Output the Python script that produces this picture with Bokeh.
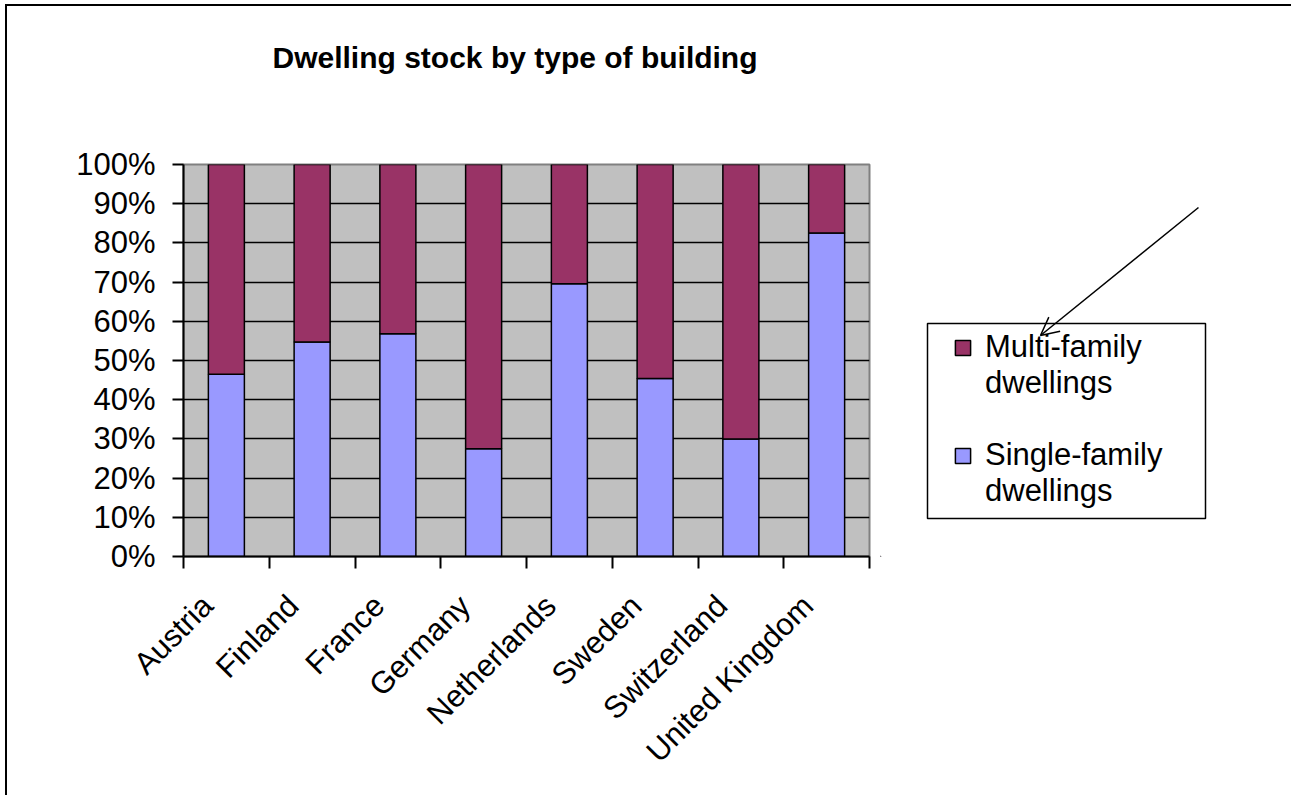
import math
from bokeh.plotting import figure
from bokeh.layouts import row
from bokeh.models import (ColumnDataSource, FixedTicker, NumeralTickFormatter, Legend,
                          LegendItem, Arrow, OpenHead)
from bokeh.embed import file_html
from bokeh.resources import INLINE

# ---- data (shares of dwelling stock) ----
categories = ["Austria", "Finland", "France", "Germany", "Netherlands",
              "Sweden", "Switzerland", "United Kingdom"]
single_family = [0.465, 0.547, 0.568, 0.275, 0.696, 0.454, 0.300, 0.825]
multi_family = [0.535, 0.453, 0.432, 0.725, 0.304, 0.546, 0.700, 0.175]
y_ticks = [0.0, 0.1, 0.2, 0.3, 0.4, 0.5, 0.6, 0.7, 0.8, 0.9, 1.0]
legend_lines = [("Multi-family", "dwellings"), ("Single-family", "dwellings")]
chart_title = "Dwelling stock by type of building"

FONT = "Liberation Sans"
SINGLE_COLOR = "#9999FF"
MULTI_COLOR = "#993366"
LABEL_SHIFT = 0.22   # rotated labels sit left of the category centre (as in Excel)

pos = [i + 0.5 for i in range(len(categories))]
label_pos = [x - LABEL_SHIFT for x in pos]
source = ColumnDataSource(dict(x=pos, single=single_family, multi=multi_family))

MAIN_W, H = 873, 791
TOP, BOTTOM = 158, 241

p = figure(width=MAIN_W, height=H, x_range=(0, len(categories)), y_range=(0, 1),
           output_backend="svg", toolbar_location=None,
           min_border_left=176, min_border_top=TOP, min_border_right=11,
           min_border_bottom=BOTTOM)

p.background_fill_color = "#C0C0C0"
p.border_fill_color = "white"
p.outline_line_color = "#808080"
p.outline_line_width = 2

renderers = p.vbar_stack(["single", "multi"], x="x", width=0.42, source=source,
                         fill_color=[SINGLE_COLOR, MULTI_COLOR],
                         line_color="black", line_width=1.5)

# title (two blank lines below it lift it well above the plot area)
p.title.text = chart_title + "\n\u00a0\n\u00a0"
p.title.text_font = FONT
p.title.text_font_size = "30px"
p.title.text_font_style = "bold"
p.title.text_color = "black"
p.title.text_line_height = 1.0
p.title.align = "left"
p.title.offset = 89
p.title.standoff = 50

# grid
p.xgrid.grid_line_color = None
p.ygrid.ticker = FixedTicker(ticks=y_ticks)
p.ygrid.grid_line_color = "black"
p.ygrid.grid_line_width = 1.5

# y axis
p.yaxis.ticker = FixedTicker(ticks=y_ticks)
p.yaxis.formatter = NumeralTickFormatter(format="0%")
p.yaxis.axis_line_color = "black"
p.yaxis.axis_line_width = 2
p.yaxis.major_tick_out = 11
p.yaxis.major_tick_in = 0
p.yaxis.major_tick_line_width = 2
p.yaxis.minor_tick_line_color = None
p.yaxis.major_label_text_font = FONT
p.yaxis.major_label_text_font_size = "31px"
p.yaxis.major_label_text_color = "black"
p.yaxis.major_label_standoff = 17

# x axis: labels near centres, ticks at category boundaries
xaxis = p.below[0]
xaxis.ticker = FixedTicker(ticks=label_pos, minor_ticks=list(range(len(categories) + 1)))
xaxis.major_label_overrides = {x: c for x, c in zip(label_pos, categories)}
xaxis.axis_line_color = "black"
xaxis.axis_line_width = 2
xaxis.major_tick_out = 0
xaxis.major_tick_in = 0
xaxis.minor_tick_out = 12
xaxis.minor_tick_in = 0
xaxis.minor_tick_line_color = "black"
xaxis.minor_tick_line_width = 2
xaxis.major_label_orientation = math.pi / 4
xaxis.major_label_text_font = FONT
xaxis.major_label_text_font_size = "31px"
xaxis.major_label_text_color = "black"
xaxis.major_label_standoff = 32

# ---- side panel with legend and arrow (its frame is aligned with the main frame) ----
SIDE_W, FRAME_H = 416, 392
q = figure(width=SIDE_W, height=H, x_range=(0, SIDE_W), y_range=(0, FRAME_H),
           output_backend="svg", toolbar_location=None,
           min_border_left=0, min_border_right=0,
           min_border_top=TOP, min_border_bottom=BOTTOM)
q.axis.visible = False
q.grid.visible = False
q.outline_line_color = None
q.background_fill_color = "white"
q.border_fill_color = "white"

# legend frame
q.quad(left=[47], right=[325], bottom=[38], top=[233],
       fill_color="white", line_color="black", line_width=1.5)

# legend swatches (proxies of the two bar series, kept outside the visible range)
proxy_multi = q.vbar(x=[-1000], bottom=[-1000], top=[-999], width=1,
                     fill_color=MULTI_COLOR, line_color="black", line_width=1.5)
proxy_single = q.vbar(x=[-1000], bottom=[-1000], top=[-999], width=1,
                      fill_color=SINGLE_COLOR, line_color="black", line_width=1.5)
proxy_blank = q.vbar(x=[-1000], bottom=[-1000], top=[-999], width=1,
                     fill_alpha=0, line_alpha=0)
items = [
    LegendItem(label=legend_lines[0][0], renderers=[proxy_multi]),
    LegendItem(label=legend_lines[0][1] + "\n\u00a0", renderers=[proxy_blank]),
    LegendItem(label=legend_lines[1][0], renderers=[proxy_single]),
    LegendItem(label=legend_lines[1][1], renderers=[proxy_blank]),
]
legend = Legend(items=items, location=(73, 47), orientation="vertical",
                glyph_width=19, glyph_height=19, label_standoff=13,
                label_text_font=FONT, label_text_font_size="31px",
                label_text_color="black", label_text_line_height=0.942,
                padding=10, spacing=-3, margin=0,
                border_line_color=None, background_fill_alpha=0)
q.add_layout(legend)

q.add_layout(Arrow(end=OpenHead(size=18, line_width=1.5, line_color="black"),
                   x_start=318, y_start=349, x_end=160, y_end=221,
                   line_color="black", line_width=1.5))

layout = row(p, q)
layout.styles = {"margin-left": "7px", "margin-top": "6px",
                 "box-shadow": "-2px -2px 0 0 black"}

open("out.html", "w").write(file_html(layout, INLINE))
